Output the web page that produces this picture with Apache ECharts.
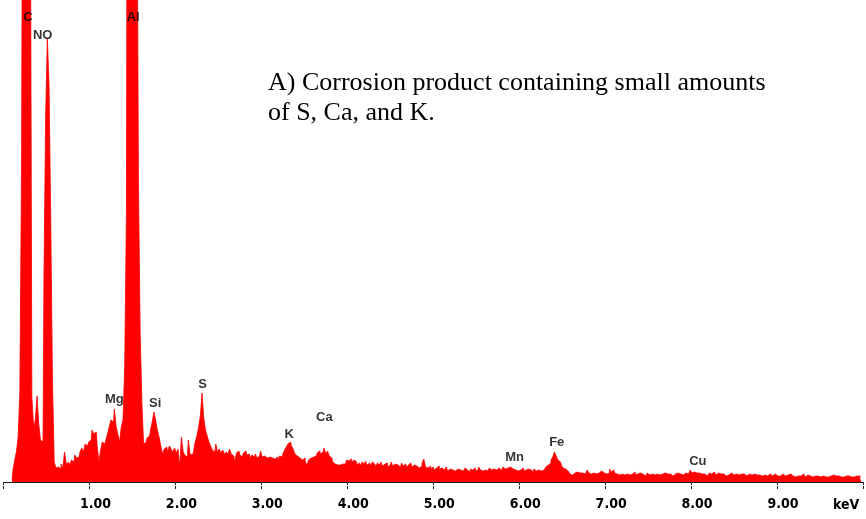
<!DOCTYPE html>
<html>
<head>
<meta charset="utf-8">
<script src="https://cdn.jsdelivr.net/npm/echarts@6/dist/echarts.min.js"></script>
<style>
  html, body { margin: 0; padding: 0; background: #fff; }
  #chart { width: 866px; height: 519px; }
</style>
</head>
<body>
<div id="chart"></div>
<script>
// EDS spectrum, channels every 0.02 keV starting at 0.10 keV
const energyStart = 0.10
const energyStep = 0.02
const counts = [
  2, 12, 22, 30, 45, 90, 320, 900, 1400, 1500, 1200, 700, 85, 55, 62, 86, 58, 42, 40, 200, 365, 444, 397, 260, 100,
  20, 14, 15, 13, 18, 14, 30, 18, 20, 16, 22, 20, 27, 24, 25, 30, 34, 30, 38, 36, 40, 42, 52, 48, 50,
  36, 20, 32, 40, 38, 42, 48, 55, 62, 60, 73, 56, 48, 40, 55, 62, 115, 270, 1200, 1500, 1600, 1500, 1100, 700, 300,
  150, 80, 38, 40, 44, 46, 52, 60, 70, 62, 52, 45, 36, 28, 33, 35, 30, 36, 33, 30, 34, 29, 33, 16, 45,
  30, 27, 25, 42, 28, 27, 30, 40, 46, 55, 66, 89, 64, 52, 46, 40, 36, 32, 30, 38, 30, 33, 29, 32, 28,
  30, 27, 33, 28, 26, 20, 29, 31, 27, 25, 29, 31, 27, 28, 24, 27, 25, 28, 24, 26, 31, 25, 26, 24, 23,
  25, 24, 26, 23, 25, 21, 26, 25, 28, 32, 35, 38, 40, 36, 33, 28, 26, 24, 26, 22, 24, 20, 17, 22, 24,
  25, 27, 26, 29, 31, 28, 30, 34, 28, 31, 26, 24, 20, 18, 17, 19, 17, 18, 20, 18, 22, 21, 23, 20, 22,
  20, 17, 19, 16, 20, 18, 21, 17, 19, 16, 20, 18, 15, 19, 17, 20, 16, 18, 19, 15, 17, 20, 16, 18, 17,
  17, 15, 19, 16, 18, 14, 17, 19, 15, 17, 16, 18, 14, 16, 19, 23, 15, 14, 16, 13, 15, 12, 14, 16, 13,
  14, 12, 13, 15, 11, 13, 12, 14, 11, 13, 15, 12, 11, 13, 14, 12, 10, 13, 12, 14, 11, 12, 15, 12, 11,
  12, 13, 11, 14, 12, 13, 15, 12, 14, 13, 11, 15, 13, 14, 12, 15, 13, 14, 12, 11, 13, 12, 14, 11, 12,
  13, 11, 12, 10, 13, 11, 12, 10, 11, 12, 14, 15, 17, 19, 22, 25, 30, 26, 22, 20, 17, 14, 13, 11, 10,
  8, 7, 9, 8, 10, 9, 7, 9, 8, 10, 12, 9, 8, 9, 10, 8, 9, 10, 11, 9, 10, 8, 9, 13, 10,
  12, 9, 8, 7, 9, 8, 7, 9, 8, 7, 9, 8, 10, 7, 8, 9, 7, 8, 6, 8, 9, 7, 8, 9, 7,
  8, 6, 7, 8, 7, 9, 8, 7, 8, 6, 7, 8, 9, 7, 8, 7, 8, 9, 8, 9, 12, 9, 10, 9, 8,
  9, 8, 7, 8, 6, 7, 9, 8, 10, 8, 7, 9, 8, 7, 8, 6, 8, 7, 9, 8, 7, 8, 6, 7, 8,
  7, 8, 6, 7, 8, 7, 6, 8, 7, 9, 7, 6, 8, 7, 6, 7, 8, 6, 7, 8, 6, 7, 6, 8, 7,
  6, 7, 6, 8, 6, 7, 5, 6, 7, 6, 8, 6, 5, 7, 6, 7, 5, 6, 7, 6, 5, 7, 6, 5, 6,
  5, 6, 5, 7, 6, 5, 6, 5, 7, 5, 6, 5, 6, 5, 6, 5, 6, 5, 6, 5
]

const tickLabels = ['', '1.00', '2.00', '3.00', '4.00', '5.00', '6.00', '7.00', '8.00', '9.00']

const peakNames = ['C', 'NO', 'Al', 'Mg', 'Si', 'S', 'K', 'Ca', 'Mn', 'Fe', 'Cu']
const peakEnergies = [0.283, 0.456, 1.509, 1.289, 1.764, 2.315, 3.325, 3.733, 5.947, 6.437, 8.079]
const peakLabelCounts = [465, 447, 465, 83, 79, 98, 48, 65, 25, 40, 21]

const noteLines = ['A) Corrosion product containing small amounts', 'of S, Ca, and K.']

const spectrum = counts.map((c, i) => [+(energyStart + i * energyStep).toFixed(2), c])
const peaks = peakNames.map((n, i) => ({ name: n, value: [peakEnergies[i], peakLabelCounts[i]] }))

const chart = echarts.init(document.getElementById('chart'), null, { renderer: 'canvas' })

const axisLabelFont = '"Liberation Sans Narrow", "DejaVu Sans Condensed", sans-serif'

chart.setOption({
  animation: false,
  grid: { left: 3.5, right: -2, top: 0, bottom: 37 },
  xAxis: [{
    type: 'value',
    min: 0,
    max: 10,
    interval: 1,
    offset: 7,
    splitLine: { show: false },
    axisLine: { lineStyle: { color: '#222', width: 1 } },
    axisTick: { length: 3, lineStyle: { color: '#222' } },
    axisLabel: {
      margin: 8,
      color: '#000',
      fontWeight: 'bold',
      fontSize: 14,
      fontFamily: axisLabelFont,
      padding: [0, 0, 0, 12],
      formatter: v => tickLabels[Math.round(v)] || ''
    }
  }, {
    type: 'value',
    min: 0,
    max: 10,
    interval: 1,
    offset: 7,
    position: 'bottom',
    splitLine: { show: false },
    axisLine: { show: false },
    axisTick: { inside: true, length: 3, lineStyle: { color: '#222' } },
    axisLabel: { show: false }
  }],
  yAxis: {
    type: 'value',
    min: 0,
    max: 482,
    show: false
  },
  series: [{
    type: 'line',
    data: spectrum,
    step: 'middle',
    symbol: 'none',
    clip: true,
    z: 2,
    lineStyle: { color: '#ff0000', width: 0.8 },
    areaStyle: { color: '#ff0000', opacity: 1 }
  }, {
    type: 'scatter',
    data: peaks,
    symbolSize: 0,
    z: 10,
    zlevel: 1,
    label: {
      show: true,
      position: 'inside',
      formatter: '{b}',
      color: '#000',
      textBorderWidth: 0,
      textBorderColor: 'transparent',
      fontWeight: 'bold',
      fontSize: 13,
      fontFamily: 'Liberation Sans, Arial, sans-serif'
    },
    labelLayout: { hideOverlap: false }
  }],
  graphic: [{
    type: 'text',
    left: 268,
    top: 68,
    style: {
      text: noteLines.join('\n'),
      font: '26px "Liberation Serif", "Times New Roman", serif',
      lineHeight: 30,
      fill: '#000'
    }
  }, {
    type: 'text',
    left: 833,
    top: 498,
    style: {
      text: 'keV',
      font: 'bold 14px ' + axisLabelFont,
      fill: '#000'
    }
  }]
})
</script>
</body>
</html>
